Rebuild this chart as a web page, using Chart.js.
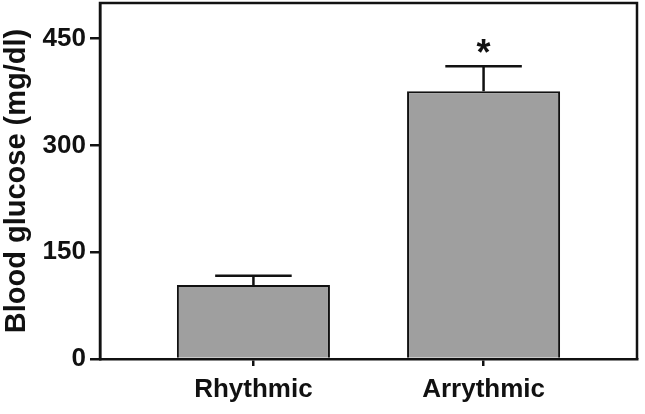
<!DOCTYPE html>
<html>
<head>
<meta charset="utf-8">
<script src="https://cdn.jsdelivr.net/npm/chart.js@4/dist/chart.umd.min.js"></script>
<style>
  html, body { margin: 0; padding: 0; background: #fff; }
  #wrap { width: 645px; height: 414px; }
</style>
</head>
<body>
<div id="wrap"><canvas id="glucoseChart"></canvas></div>
<script>
/* ─── Data ─── */
const categories   = ["Rhythmic", "Arrythmic"];
const glucoseMean  = [104, 376];   // mg/dl
const glucoseSem   = [13, 35];     // upper error
const significance = ["", "*"];
const yTicks       = [0, 150, 300, 450];

const INK = "#111";
const FONT = "'Liberation Sans', Arial, sans-serif";

/* ─── Frame around plot area ─── */
const framePlugin = {
  id: "frame",
  afterDraw(chart) {
    const { ctx, chartArea: a } = chart;
    ctx.save();
    ctx.strokeStyle = INK;
    ctx.lineWidth = 2.5;
    ctx.beginPath();
    ctx.moveTo(a.left, a.bottom);
    ctx.lineTo(a.left, a.top);
    ctx.lineTo(a.right, a.top);
    ctx.lineTo(a.right, a.bottom);
    ctx.stroke();
    ctx.restore();
  }
};

/* ─── Error bars + significance marks ─── */
const errorBarPlugin = {
  id: "errorBars",
  afterDatasetsDraw(chart) {
    const { ctx, scales: { y } } = chart;
    const meta = chart.getDatasetMeta(0);
    ctx.save();
    ctx.strokeStyle = INK;
    ctx.lineWidth = 2.5;
    meta.data.forEach((bar, i) => {
      const top = y.getPixelForValue(glucoseMean[i] + glucoseSem[i]);
      const half = bar.width * 0.25;
      ctx.beginPath();
      ctx.moveTo(bar.x, bar.y);
      ctx.lineTo(bar.x, top);
      ctx.moveTo(bar.x - half, top);
      ctx.lineTo(bar.x + half, top);
      ctx.stroke();
      if (significance[i]) {
        ctx.fillStyle = INK;
        ctx.font = "bold 36px " + FONT;
        ctx.textAlign = "center";
        ctx.textBaseline = "alphabetic";
        ctx.fillText(significance[i], bar.x, top - 1);
      }
    });
    ctx.restore();
  }
};

const noEdgePadding = s => { s.paddingTop = 0; s.paddingBottom = 0; s.paddingLeft = 0; s.paddingRight = 0; };

/* ─── Chart ─── */
new Chart(document.getElementById("glucoseChart"), {
  type: "bar",
  data: {
    datasets: [{
      data: glucoseMean.map((v, i) => ({ x: i, y: v })),
      backgroundColor: "#9f9f9f",
      borderColor: INK,
      borderWidth: 2,
      barPercentage: 0.665,
      categoryPercentage: 1,
    }],
  },
  options: {
    responsive: true, maintainAspectRatio: false, animation: false,
    layout: { padding: { top: 3, right: 8, left: 0, bottom: 0 } },
    plugins: { legend: { display: false }, tooltip: { enabled: false } },
    scales: {
      x: {
        type: "linear",
        offset: false,
        min: -2 / 3, max: 5 / 3,
        afterBuildTicks: s => { s.ticks = categories.map((_, i) => ({ value: i })); },
        afterFit: s => { s.height = 55; noEdgePadding(s); },
        grid: { drawOnChartArea: false, offset: false, color: INK, tickLength: 7, lineWidth: 2.5 },
        border: { color: INK, width: 2.5 },
        ticks: {
          callback: v => categories[v] ?? "",
          color: INK, padding: 8, maxRotation: 0, autoSkip: false,
          font: { family: FONT, size: 26, weight: "bold" },
        },
      },
      y: {
        min: 0, max: 500,
        afterBuildTicks: s => { s.ticks = yTicks.map(v => ({ value: v })); },
        afterFit: s => { s.width = 100; noEdgePadding(s); },
        grid: { drawOnChartArea: false, color: INK, tickLength: 10, lineWidth: 2.5 },
        border: { color: INK, width: 2.5 },
        ticks: {
          color: INK, padding: 4,
          font: { family: FONT, size: 26, weight: "bold" },
        },
        title: {
          display: true, text: "Blood glucose (mg/dl)", color: INK,
          padding: { top: 0, bottom: 0 },
          font: { family: FONT, size: 29, weight: "bold" },
        },
      },
    },
  },
  plugins: [framePlugin, errorBarPlugin],
});
</script>
</body>
</html>
